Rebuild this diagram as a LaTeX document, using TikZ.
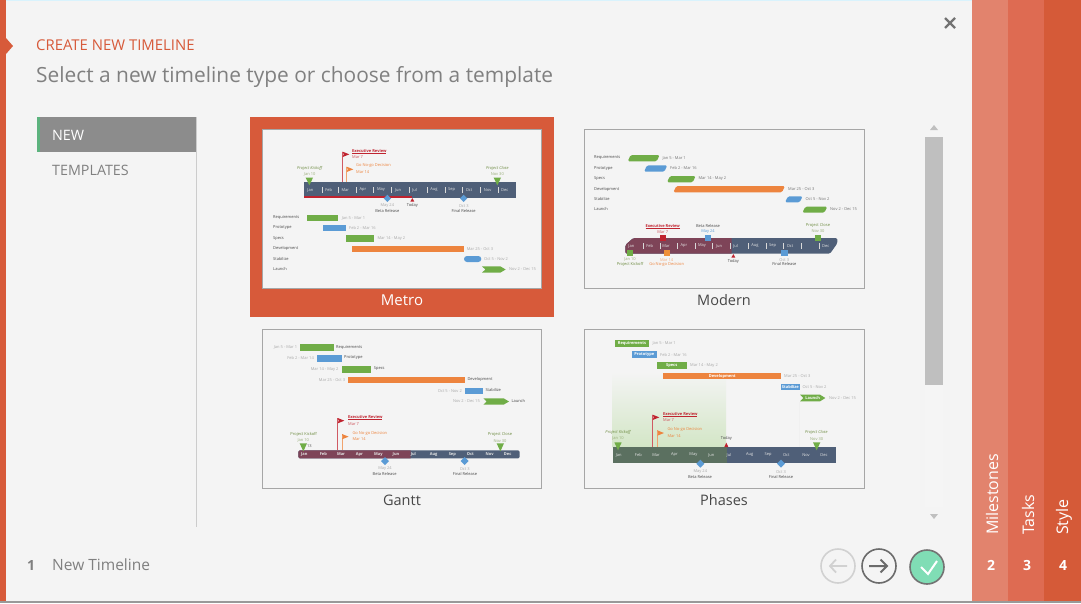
\documentclass[tikz,border=0pt]{standalone}
\usepackage{fontspec}
\setmainfont{Open Sans}
\definecolor{bgc}{HTML}{F4F4F4}
\definecolor{acc}{HTML}{D75A3A}
\definecolor{tabA}{HTML}{E2836D}
\definecolor{tabB}{HTML}{DE6B52}
\definecolor{tabC}{HTML}{D55A38}
\definecolor{gtxt}{HTML}{808080}
\definecolor{navy}{HTML}{4F5F78}
\definecolor{maroon}{HTML}{7E4458}
\definecolor{mossy}{HTML}{5B7060}
\definecolor{tgreen}{HTML}{70AD47}
\definecolor{tblue}{HTML}{5B9BD5}
\definecolor{torange}{HTML}{ED843E}
\definecolor{tred}{HTML}{C0232F}
\definecolor{olive}{HTML}{6C8A40}
\definecolor{dtxt}{HTML}{555555}
\definecolor{ltxt}{HTML}{A8A8A8}
\definecolor{menug}{HTML}{5DB37E}
\definecolor{okfill}{HTML}{80DDB5}
\definecolor{phasebot}{HTML}{D3E6C6}
\newcommand{\tf}{\fontsize{4}{5}\selectfont}
\newcommand{\thinul}[1]{\setbox0\hbox{#1}\rlap{\rule[-.6pt]{\wd0}{.3pt}}\box0}
\tikzset{
  lab/.style={inner sep=0pt,font=\tf},
  lw/.style={lab,anchor=west},
  le/.style={lab,anchor=east},
  dates/.style={lab,text=ltxt},
  kick/.style={lab,text=olive,font=\tf\itshape},
  kickdate/.style={lab,text=olive!70!white},
  names/.style={lab,text=black!72,font=\tf},
  mon/.style={lab,text=white!90!black},
  thumbframe/.style={draw=black!35,fill=bgc,line width=1pt},
  sep/.style={draw=white!85!black,line width=.5pt},
  mainbtn/.style={line width=1.6pt}
}
\newcommand{\tbar}[5]{\fill[#5] (#1,#2) rectangle (#3,#4);}
\newcommand{\launch}[5]{\fill[#5] (#1,#2) -- ({#3-16},#2) -- (#3,{(#2+#4)/2}) -- ({#3-16},#4) -- (#1,#4) -- ({#1+10},{(#2+#4)/2}) -- cycle;}
\newcommand{\skewbar}[5]{\fill[#5,rounded corners=1.5pt] ({#1+9},#2) -- (#3,#2) -- ({#3-9},#4) -- (#1,#4) -- cycle;}
\newcommand{\dnt}[3]{\fill[tgreen] ({#1-11},#2) -- ({#1+11},#2) -- (#1,#3) -- cycle;}
\newcommand{\upt}[3]{\fill[tred] ({#1-6},#3) -- ({#1+6},#3) -- (#1,#2) -- cycle;}
\newcommand{\diam}[3]{\fill[tblue] ({#1-#3},#2) -- (#1,{#2-#3}) -- ({#1+#3},#2) -- (#1,{#2+#3}) -- cycle;}
\newcommand{\flagp}[4]{\draw[#4!75!white,line width=.8pt] (#1,#2) -- (#1,#3); \fill[#4] (#1,#2) -- ({#1+20},{#2+8}) -- (#1,{#2+16}) -- ({#1+3},{#2+8}) -- cycle;}
\newcommand{\sq}[3]{\fill[#3] ({#1-9.5},{#2-9.5}) rectangle ({#1+9.5},{#2+9.5});}
\newcommand{\exec}[3]{\node[lw,text=tred,font=\tf\bfseries] at (#1,#2) {\thinul{Executive Review}}; \node[lw,text=tred!80!white] at (#1,#3) {Mar 7};}
\newcommand{\nogo}[3]{\node[lw,text=torange] at (#1,#2) {Go No-go Decision}; \node[lw,text=torange] at (#1,#3) {Mar 14};}
\begin{document}
\begin{tikzpicture}[x=1pt,y=-1pt]
\useasboundingbox (0,0) rectangle (1081,603);
\fill[bgc] (0,0) rectangle (1081,603);
\fill[white!85!cyan] (0,0) rectangle (972,1);
\fill[black!40] (0,601) rectangle (1081,603);
\fill[acc] (0,0) rectangle (6,601);
\fill[acc] (6,38) -- (13,46) -- (6,54) -- cycle;
\node[anchor=west,inner sep=0pt,text=acc,font=\fontsize{14.9}{17}\selectfont] (hd) at (36,45) {CREATE NEW TIMELINE};
\node[anchor=west,inner sep=0pt,text=gtxt,font=\fontsize{20.9}{25}\selectfont] (sub) at (36,77) {Select a new timeline type or choose from a template};
\draw[black!20,line width=.8pt] (196.5,117) -- (196.5,527);
\fill[black!45] (37,117) rectangle (196,152);
\fill[menug] (37,117) rectangle (40,152);
\node[anchor=west,inner sep=0pt,text=white,font=\fontsize{14.3}{16}\selectfont] (nw) at (52,135) {NEW};
\node[anchor=west,inner sep=0pt,text=gtxt,font=\fontsize{14.3}{16}\selectfont] (tp) at (52,170) {TEMPLATES};
\draw[black!55,line width=2.2pt] (945,18) -- (955,28) (955,18) -- (945,28);
\fill[black!4] (925,137) rectangle (943,507);
\fill[black!25] (925,137) rectangle (943,385);
\fill[black!25] (930,130) -- (938,130) -- (934,125) -- cycle;
\fill[black!25] (930,514) -- (938,514) -- (934,519) -- cycle;
\fill[tabA] (972,0) rectangle (1008,601);
\fill[tabB] (1008,0) rectangle (1044,601);
\fill[tabC] (1044,0) rectangle (1081,601);
\foreach \xx/\yy/\tt in {992/Milestones/2,1028/Tasks/3,1064/Style/4}{
  \node[rotate=90,anchor=west,inner sep=0pt,text=white,font=\fontsize{16}{18}\selectfont] at (\xx,535) {\yy};
  \node[inner sep=0pt,text=white,font=\fontsize{14}{16}\selectfont\bfseries] at ({\xx-1},565) {\tt};
}
\node[inner sep=0pt,text=gtxt,font=\fontsize{14}{16}\selectfont\bfseries] (n1) at (31,565) {1};
\node[anchor=west,inner sep=0pt,text=gtxt,font=\fontsize{15.5}{18}\selectfont] (ntl) at (52,565) {New Timeline};
\draw[black!18,mainbtn] (838,566) circle (17);
\draw[black!18,line width=1.8pt] (847,566) -- (830,566) (836,559.5) -- (830,566) -- (836,572.5);
\draw[black!58,mainbtn] (879,566) circle (17);
\draw[black!58,line width=2pt] (869,566) -- (887,566) (880.5,559.5) -- (887,566) -- (880.5,572.5);
\draw[black!55,mainbtn,fill=okfill] (927,567) circle (17);
\draw[white,line width=2pt] (921,567) -- (928,574) -- (937,561);
%%% METRO
\fill[acc] (250,117) rectangle (554,317);
\begin{scope}[shift={(250,115)},x=.33333pt,y=-.33333pt]
\draw[thumbframe,line width=.8pt] (37,42) rectangle (875,520);
\fill[navy] (163,202) rectangle (799,248);
\fill[tred] (163,244) rectangle (487,248);
\foreach \s in {216,265,319,371,425,478,532,585,637,691,745} \draw[sep] (\s,216) -- (\s,234);
\foreach \s/\m in {181/Jan,236/Feb,286/Mar,339/Apr,393/May,444/Jun,494/Jul,552/Aug,605/Sep,657/Oct,713/Nov,764/Dec} \node[mon] at (\s,225) {\m};
\dnt{178}{188}{211} \dnt{742}{188}{211}
\flagp{278}{110}{202}{tred} \flagp{290}{155}{202}{torange}
\exec{306}{108}{127} \nogo{318}{153}{170}
\node[kick] at (179,161) {Project Kickoff};
\node[kickdate] at (179,178) {Jan 10};
\node[kick] at (742,161) {Project Close};
\node[kickdate] at (742,178) {Nov 30};
\diam{412}{250}{11} \diam{641}{250}{11}
\upt{487}{249}{260}
\node[dates] at (412,272) {May 24}; \node[names] at (412,287) {Beta Release};
\node[dates] at (641,272) {Oct 3}; \node[names] at (641,287) {Final Release};
\node[names] at (487,272) {Today};
\foreach \yy/\nn in {308/Requirements,339/Prototype,370/Specs,401/Development,432/Stabilize,463/Launch} \node[names,anchor=west] at (69,\yy) {\nn};
\tbar{170}{300}{265}{318}{tgreen}
\tbar{219}{330}{288}{349}{tblue}
\tbar{288}{361}{373}{380}{tgreen}
\tbar{307}{393}{641}{411}{torange}
\fill[tblue,rounded corners=3pt] (642,423) rectangle (694,441);
\launch{696}{454}{767}{473}{tgreen}
\foreach \xx/\yy/\dd in {275/309/Jan 5 - Mar 1,297/340/Feb 2 - Mar 16,382/371/Mar 14 - May 2,650/402/Mar 25 - Oct 3,702/432/Oct 5 - Nov 2,777/463/Nov 2 - Dec 15} \node[dates,anchor=west] at (\xx,\yy) {\dd};
\end{scope}
\node[inner sep=0pt,text=white,font=\fontsize{15}{17}\selectfont] (tm) at (402,300) {Metro};
%%% MODERN
\begin{scope}[shift={(575,120)},x=.33333pt,y=-.33333pt]
\draw[thumbframe] (28,28) rectangle (867,505);
\foreach \yy/\nn in {114/Requirements,145/Prototype,176/Specs,207/Development,238/Stabilize,268/Launch} \node[names,anchor=west] at (57,\yy) {\nn};
\skewbar{158}{105}{254}{124}{tgreen}
\skewbar{207}{136}{277}{155}{tblue}
\skewbar{276}{168}{362}{187}{tgreen}
\skewbar{295}{198}{630}{217}{torange}
\skewbar{630}{229}{683}{247}{tblue}
\skewbar{682}{260}{757}{278}{tgreen}
\foreach \xx/\yy/\dd in {262/115/Jan 5 - Mar 1,285/145/Feb 2 - Mar 16,370/176/Mar 14 - May 2,639/207/Mar 25 - Oct 3,691/238/Oct 5 - Nov 2,765/268/Nov 2 - Dec 15} \node[dates,anchor=west,text=black!55] at (\xx,\yy) {\dd};
\fill[navy,rounded corners=1.5pt] (151,375) -- (175,354) -- (787,354) -- (787,370) -- (765,401) -- (151,401) -- cycle;
\begin{scope}
\clip (140,350) rectangle (470,405);
\fill[maroon,rounded corners=1.5pt] (151,375) -- (175,354) -- (787,354) -- (787,370) -- (765,401) -- (151,401) -- cycle;
\end{scope}
\foreach \s in {205,256,308,360,413,466,520,574,626,680,733} \draw[sep] (\s,369) -- (\s,387);
\foreach \s/\m in {169/Jan,224/Feb,273/Mar,327/Apr,381/May,432/Jun,482/Jul,540/Aug,593/Sep,645/Oct,752/Dec} \node[mon] at (\s,378) {\m};
\sq{263}{354}{tred} \sq{399}{354}{tblue} \sq{729}{354}{tgreen}
\sq{165}{399}{tgreen} \sq{275}{399}{torange!90!yellow} \sq{628}{399}{tblue}
\node[lab,text=tred,font=\tf\bfseries] at (263,319) {\thinul{Executive Review}};
\node[lab,text=tred!80!white] at (263,336) {Mar 7};
\node[names] at (399,319) {Beta Release};
\node[dates,text=tblue] at (399,336) {May 24};
\node[lab,text=olive] at (729,315) {Project Close};
\node[kickdate] at (729,332) {Nov 30};
\node[kickdate] at (165,419) {Jan 10};
\node[lab,text=olive] at (165,433) {Project Kickoff};
\node[lab,text=torange!70!white] at (275,419) {Mar 14};
\node[lab,text=torange] at (275,433) {Go No-go Decision};
\upt{475}{402}{413}
\node[names] at (475,424) {Today};
\node[dates] at (628,419) {Oct 3};
\node[names] at (628,433) {Final Release};
\end{scope}
\node[inner sep=0pt,text=black!72,font=\fontsize{14.5}{17}\selectfont] (tmo) at (724,300) {Modern};
%%% GANTT
\begin{scope}[shift={(255,322)},x=.33333pt,y=-.33333pt]
\draw[thumbframe] (22,22) rectangle (860,499);
\tbar{136}{67}{236}{87}{tgreen}
\tbar{187}{100}{260}{120}{tblue}
\tbar{260}{132}{349}{152}{tgreen}
\tbar{280}{164}{630}{184}{torange}
\tbar{630}{197}{685}{216}{tblue}
\launch{685}{229}{762}{248}{tgreen}
\foreach \xx/\yy/\dd in {127/77/Jan 5 - Mar 1,177/109/Feb 2 - Mar 14,251/142/Mar 14 - May 2,271/174/Mar 25 - Oct 3,621/206/Oct 5 - Nov 2,675/238/Nov 2 - Dec 15} \node[dates,anchor=east] at (\xx,\yy) {\dd};
\foreach \xx/\yy/\nn in {243/76/Requirements,267/108/Prototype,356/141/Specs,637/173/Development,691/205/Stabilize,769/238/Launch} \node[names,anchor=west] at (\xx,\yy) {\nn};
\fill[navy,rounded corners=1.5pt] (130,385) rectangle (794,409);
\begin{scope}
\clip (120,380) rectangle (467,415);
\fill[maroon,rounded corners=1.5pt] (130,385) rectangle (794,409);
\end{scope}
\foreach \s/\m in {148/Jan,205/Feb,258/Mar,313/Apr,370/May,423/Jun,475/Jul,536/Aug,592/Sep,646/Oct,704/Nov,758/Dec} \node[mon,font=\tf\bfseries] at (\s,397) {\m};
\node[lab,text=dtxt] at (163,373) {13};
\dnt{145}{364}{388} \dnt{736}{364}{388}
\flagp{248}{288}{385}{tred} \flagp{261}{336}{385}{torange}
\exec{279}{287}{306} \nogo{292}{334}{352}
\node[lab,text=olive] at (146,338) {Project Kickoff};
\node[kickdate] at (145,356) {Jan 10};
\node[lab,text=olive] at (735,338) {Project Close};
\node[kickdate] at (735,356) {Nov 30};
\diam{390}{417}{12} \diam{629}{417}{12}
\node[dates] at (390,441) {May 24}; \node[names] at (389,457) {Beta Release};
\node[dates] at (629,441) {Oct 3}; \node[names] at (630,457) {Final Release};
\end{scope}
\node[inner sep=0pt,text=black!72,font=\fontsize{14.5}{17}\selectfont] (tga) at (402,500) {Gantt};
%%% PHASES
\begin{scope}[shift={(575,322)},x=.33333pt,y=-.33333pt]
\draw[thumbframe] (28,22) rectangle (867,499);
\shade[top color=bgc,bottom color=phasebot] (113,150) rectangle (453,375);
\draw[black!6,line width=.4pt] (673,240) -- (673,375);
\tbar{121}{55}{221}{75}{tgreen}
\tbar{171}{88}{245}{108}{tblue}
\tbar{245}{121}{335}{140}{tgreen}
\tbar{265}{153}{618}{172}{torange}
\tbar{618}{186}{675}{205}{tblue}
\launch{675}{218}{751}{238}{tgreen}
\foreach \xx/\yy/\nn in {171/65/Requirements,208/98/Prototype,290/131/Specs,442/163/Development,646/196/Stabilize,713/228/Launch} \node[lab,text=white,font=\tf\bfseries] at (\xx,\yy) {\nn};
\foreach \xx/\yy/\dd in {232/65/Jan 5 - Mar 1,255/98/Feb 2 - Mar 16,345/130/Mar 14 - May 2,627/162/Mar 25 - Oct 3,682/194/Oct 5 - Nov 2,762/227/Nov 2 - Dec 15} \node[dates,anchor=west] at (\xx,\yy) {\dd};
\fill[navy] (113,375) rectangle (784,424);
\fill[mossy] (113,375) rectangle (455,424);
\foreach \s/\m in {131/Jan,190/Feb,243/Mar,298/Apr,355/May,409/Jun,462/Jul,524/Aug,579/Sep,634/Oct,693/Nov,747/Dec} \node[mon] at (\s,399) {\m};
\dnt{129}{361}{385} \dnt{725}{361}{385}
\flagp{233}{278}{375}{tred} \flagp{247}{325}{375}{torange}
\exec{264}{277}{295} \nogo{277}{323}{341}
\node[kick] at (129,332) {Project Kickoff};
\node[kickdate] at (129,350) {Jan 10};
\node[kick] at (724,332) {Project Close};
\node[kickdate] at (725,351) {Nov 30};
\node[names] at (454,348) {Today};
\upt{454}{362}{375}
\diam{376}{425}{12} \diam{618}{425}{12}
\node[dates] at (376,450) {May 24}; \node[names] at (375,466) {Beta Release};
\node[dates] at (618,450) {Oct 3}; \node[names] at (618,466) {Final Release};
\end{scope}
\node[inner sep=0pt,text=black!72,font=\fontsize{14.5}{17}\selectfont] (tph) at (724,500) {Phases};
\end{tikzpicture}
\end{document}
